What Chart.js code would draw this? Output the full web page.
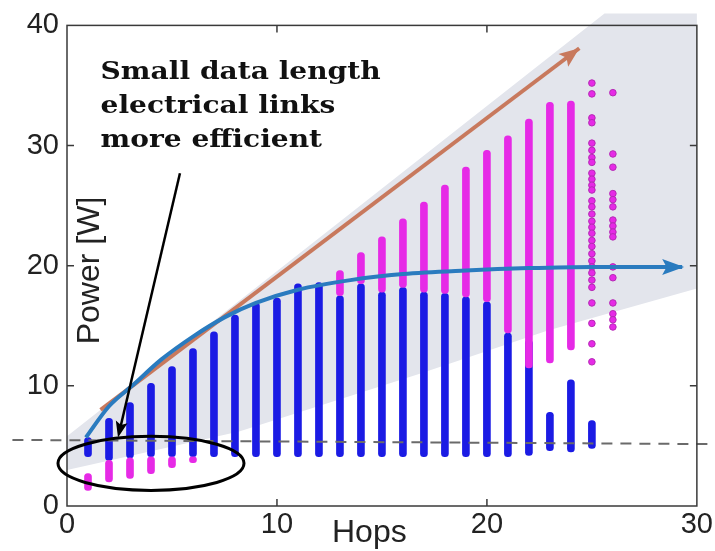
<!DOCTYPE html>
<html>
<head>
<meta charset="utf-8">
<script src="https://cdn.jsdelivr.net/npm/chart.js@4"></script>
<style>
  body { margin: 0; background: #fff; }
  #chart { display: block; }
</style>
</head>
<body>
<canvas id="chart" width="715" height="551"></canvas>
<script>
// column ranges (hops -> power in W)
const blueHops = [1, 2, 3, 4, 5, 6, 7, 8, 9, 10, 11, 12, 13, 14, 15, 16, 17, 18, 19, 20, 21, 22, 23, 24, 25];
const blueLow  = [4.1, 3.8, 4.0, 4.1, 4.1, 4.1, 4.1, 4.1, 4.1, 4.1, 4.1, 4.1, 4.1, 4.1, 4.1, 4.1, 4.1, 4.1, 4.1, 4.1, 4.1, 4.2, 4.6, 4.5, 4.8];
const blueHigh = [5.7, 7.3, 8.6, 10.2, 11.6, 13.1, 14.5, 15.9, 16.9, 17.3, 18.5, 18.6, 17.5, 18.5, 17.8, 18.2, 17.8, 17.7, 17.4, 17.0, 14.4, 13.8, 7.8, 10.5, 7.1];

const magentaHops = [1, 2, 3, 4, 5, 6, 13, 14, 15, 16, 17, 18, 19, 20, 21, 22, 23, 24];
const magentaLow  = [1.3, 2.0, 2.3, 2.7, 3.2, 3.6, 17.5, 18.5, 17.8, 18.2, 17.8, 17.7, 17.4, 17.0, 14.4, 11.5, 11.9, 13.0];
const magentaHigh = [2.7, 3.8, 4.0, 4.1, 4.1, 4.1, 19.6, 21.1, 22.4, 23.9, 25.3, 26.7, 28.2, 29.6, 30.8, 32.2, 33.6, 33.7];

// the two right-most columns are loose dots
const dots25 = [35.2, 34.3, 32.3, 31.9, 30.2, 29.6, 29.0, 28.6, 27.7, 27.2, 26.7, 26.3, 25.4, 24.9, 24.3, 23.7,
                23.2, 22.7, 22.1, 21.6, 21.0, 20.4, 19.9, 19.4, 18.8, 18.2, 16.9, 15.2, 13.5, 12.0];
const dots26 = [34.4, 29.3, 28.2, 26.0, 25.5, 24.9, 23.8, 23.3, 22.8, 22.4, 19.9, 19.0, 16.9, 16.0, 15.5, 14.9];

// trend curve (blue arrow) and linear trend (brown arrow)
const curveX = [0.9, 2.0, 3.1, 4.5, 6.0, 7.5, 9.0, 11.0, 13.5, 16.0, 19.0, 22.0, 25.0, 27.5, 29.3];
const curveY = [5.7, 8.3, 10.0, 12.2, 14.1, 15.7, 16.9, 18.0, 18.8, 19.3, 19.6, 19.8, 19.9, 19.9, 19.9];
const linearX = [1.6, 24.4];
const linearY = [8.0, 38.1];

// dashed reference level
const dashX = [-2.6, 30.9];
const dashY = [5.5, 5.15];

// shaded band
const bandX = [0, 25.6, 30, 30, 22.9, 16.8, 8.2, 0];
const bandY = [5.8, 41.0, 41.0, 18.1, 14.6, 11.0, 6.2, 3.0];

const xTicks = [0, 10, 20, 30];
const yTicks = [0, 10, 20, 30, 40];

const noteLines = ['Small data length', 'electrical links', 'more efficient'];

const BLUE = '#1b1be4';
const MAGENTA = '#e62ae6';
const SANS = '"Liberation Sans", Arial, sans-serif';

const pts = (xs, ys) => xs.map((x, i) => ({x: x, y: ys[i]}));

function arrowHead(ctx, x1, y1, x2, y2, len, half, color) {
    const a = Math.atan2(y2 - y1, x2 - x1);
    ctx.save();
    ctx.fillStyle = color;
    ctx.translate(x2, y2);
    ctx.rotate(a);
    ctx.beginPath();
    ctx.moveTo(0, 0);
    ctx.lineTo(-len, -half);
    ctx.lineTo(-len * 0.8, 0);
    ctx.lineTo(-len, half);
    ctx.closePath();
    ctx.fill();
    ctx.restore();
}

const decorations = {
    id: 'decorations',
    beforeDatasetsDraw(chart) {
        const {ctx} = chart;
        const xs = chart.scales.x, ys = chart.scales.y;
        ctx.save();
        ctx.fillStyle = '#e3e5ec';
        ctx.beginPath();
        bandX.forEach((x, i) => {
            const px = xs.getPixelForValue(x), py = ys.getPixelForValue(bandY[i]);
            if (i === 0) ctx.moveTo(px, py); else ctx.lineTo(px, py);
        });
        ctx.closePath();
        ctx.fill();
        ctx.restore();
    },
    afterDatasetsDraw(chart) {
        const {ctx, chartArea: a} = chart;
        const xs = chart.scales.x, ys = chart.scales.y;
        const X = v => xs.getPixelForValue(v), Y = v => ys.getPixelForValue(v);

        // arrow heads
        const n = curveX.length;
        arrowHead(ctx, X(curveX[n - 3]), Y(curveY[n - 3]), X(curveX[n - 1]) + 2, Y(curveY[n - 1]), 22, 8, '#2a7bbf');
        arrowHead(ctx, X(linearX[0]), Y(linearY[0]), X(linearX[1]), Y(linearY[1]), 20, 8, '#c8795d');

        // frame with inward ticks
        ctx.save();
        ctx.strokeStyle = '#3a3a3a';
        ctx.lineWidth = 1.5;
        ctx.strokeRect(a.left, a.top, a.right - a.left, a.bottom - a.top);
        ctx.beginPath();
        xTicks.slice(1, -1).forEach(v => {
            ctx.moveTo(X(v), a.bottom); ctx.lineTo(X(v), a.bottom - 7);
            ctx.moveTo(X(v), a.top); ctx.lineTo(X(v), a.top + 7);
        });
        yTicks.slice(1, -1).forEach(v => {
            ctx.moveTo(a.left, Y(v)); ctx.lineTo(a.left + 7, Y(v));
            ctx.moveTo(a.right, Y(v)); ctx.lineTo(a.right - 7, Y(v));
        });
        ctx.stroke();
        ctx.restore();

        // ellipse around the short-hop region
        ctx.save();
        ctx.strokeStyle = '#000';
        ctx.lineWidth = 3;
        ctx.beginPath();
        ctx.ellipse(X(4.0), Y(3.55), X(4.43) - X(0), Y(0) - Y(2.25), 0, 0, Math.PI * 2);
        ctx.stroke();

        // pointer from the note to the ellipse
        ctx.lineWidth = 2.5;
        ctx.beginPath();
        ctx.moveTo(X(5.38), Y(27.7));
        ctx.lineTo(X(2.55), Y(6.6));
        ctx.stroke();
        arrowHead(ctx, X(5.38), Y(27.7), X(2.43), Y(5.7), 16, 6, '#000');

        // note text, stretched to the width it has in the picture
        ctx.fillStyle = '#111';
        ctx.font = 'bold 25px "DejaVu Serif", "Liberation Serif", serif';
        ctx.textAlign = 'left';
        ctx.textBaseline = 'alphabetic';
        const k = 280 / ctx.measureText(noteLines[0]).width;
        noteLines.forEach((t, i) => {
            ctx.save();
            ctx.translate(X(1.6), Y(35.5) + i * 34);
            ctx.scale(k, 1);
            ctx.fillText(t, 0, 0);
            ctx.restore();
        });

        // axis titles
        ctx.fillStyle = '#222';
        ctx.font = '32px ' + SANS;
        ctx.textAlign = 'center';
        ctx.fillText('Hops', X(14.4), 542);
        ctx.translate(X(1.1), Y(19.6));
        ctx.rotate(-Math.PI / 2);
        ctx.textBaseline = 'middle';
        ctx.fillText('Power [W]', 0, 0);
        ctx.restore();
    }
};

new Chart(document.getElementById('chart'), {
    data: {
        datasets: [
            {
                type: 'line',
                data: pts(curveX, curveY),
                borderColor: '#2a7bbf',
                borderWidth: 4,
                pointRadius: 0,
                cubicInterpolationMode: 'monotone',
                fill: false,
                order: 1
            },
            {
                type: 'line',
                data: pts(dashX, dashY),
                borderColor: '#6a6a6a',
                borderWidth: 2,
                borderDash: [11, 8],
                pointRadius: 0,
                clip: false,
                order: 2
            },
            {
                type: 'scatter',
                data: dots25.map(v => ({x: 25, y: v})).concat(dots26.map(v => ({x: 26, y: v}))),
                backgroundColor: MAGENTA,
                borderColor: '#b52ab5',
                borderWidth: 1,
                pointRadius: 3.3,
                order: 3
            },
            {
                type: 'bar',
                data: magentaHops.map((h, i) => ({x: h, y: [magentaLow[i], magentaHigh[i]]})),
                backgroundColor: MAGENTA,
                barThickness: 7,
                borderRadius: 4,
                borderSkipped: false,
                grouped: false,
                order: 4
            },
            {
                type: 'bar',
                data: blueHops.map((h, i) => ({x: h, y: [blueLow[i], blueHigh[i]]})),
                backgroundColor: BLUE,
                barThickness: 7,
                borderRadius: 4,
                borderSkipped: false,
                grouped: false,
                order: 5
            },
            {
                type: 'line',
                data: pts(linearX, linearY),
                borderColor: '#c8795d',
                borderWidth: 4,
                pointRadius: 0,
                order: 6
            }
        ]
    },
    options: {
        responsive: false,
        animation: false,
        devicePixelRatio: 1,
        layout: {padding: {top: 25, right: 18, left: 0, bottom: 0}},
        plugins: {legend: {display: false}, tooltip: {enabled: false}},
        scales: {
            x: {
                type: 'linear', min: 0, max: 30, offset: false,
                afterFit: s => { s.height = 45; },
                afterBuildTicks: s => { s.ticks = xTicks.map(v => ({value: v})); },
                ticks: {color: '#222', font: {family: SANS, size: 29}, padding: 2, maxRotation: 0},
                grid: {display: false, drawTicks: false, offset: false},
                border: {display: false}
            },
            y: {
                type: 'linear', min: 0, max: 40,
                afterFit: s => { s.width = 67; },
                afterBuildTicks: s => { s.ticks = yTicks.map(v => ({value: v})); },
                ticks: {color: '#222', font: {family: SANS, size: 29}, padding: 8},
                grid: {display: false, drawTicks: false},
                border: {display: false}
            }
        }
    },
    plugins: [decorations]
});
</script>
</body>
</html>
